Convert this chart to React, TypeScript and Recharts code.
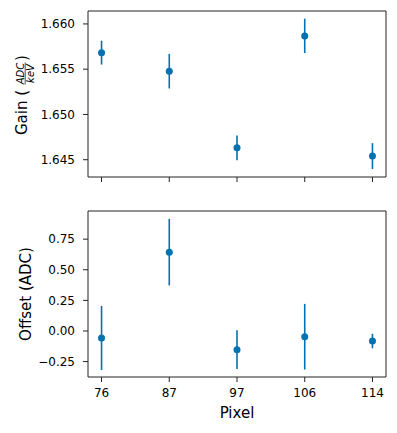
import React from "react";
import {
  ScatterChart,
  Scatter,
  XAxis,
  YAxis,
  ErrorBar,
  ReferenceLine,
} from "recharts";

const pixels = ["76", "87", "97", "106", "114"];
const gain = [1.65683, 1.65478, 1.64631, 1.65868, 1.6454];
const gainErr = [0.00132, 0.00191, 0.00136, 0.0019, 0.00143];
const offset = [-0.057, 0.644, -0.153, -0.047, -0.082];
const offsetErr = [0.262, 0.272, 0.158, 0.268, 0.059];
const gainTicks = [1.645, 1.65, 1.655, 1.66];
const offsetTicks = [-0.25, 0, 0.25, 0.5, 0.75];

const BLUE = "#0072b2";
const FONT = "DejaVu Sans";
const AXIS = "#222";
const X_DOMAIN = [-0.2, 4.2];

const xIdx = pixels.map((_, i) => i);

const gainData = pixels.map((p, i) => ({ x: i, y: gain[i], err: gainErr[i] }));
const offsetData = pixels.map((p, i) => ({ x: i, y: offset[i], err: offsetErr[i] }));

const fmt = (v: number, d: number) => v.toFixed(d).replace("-", "\u2212");

// "Gain (ADC/keV)" with a stacked fraction, like matplotlib mathtext
const GainLabel = (props: any) => {
  const vb = props.viewBox || { x: 0, y: 11, width: 88, height: 166 };
  const bx = vb.x + 27;
  const by = vb.y + vb.height / 2 + 41;
  return (
    <g transform={`translate(${bx},${by}) rotate(-90)`} fontFamily={FONT} fill="#000">
      <text x={0} y={0} fontSize={15}>
        Gain (
      </text>
      <text x={61.5} y={-3.2} fontSize={10} fontStyle="italic" textAnchor="middle">
        ADC
      </text>
      <line x1={50.5} x2={72.5} y1={-1.8} y2={-1.8} stroke="#000" strokeWidth={0.7} />
      <text x={61.5} y={7} fontSize={10} fontStyle="italic" textAnchor="middle">
        keV
      </text>
      <text x={74} y={0} fontSize={15}>
        )
      </text>
    </g>
  );
};

const OffsetLabel = (props: any) => {
  const vb = props.viewBox || { x: 0, y: 11, width: 88, height: 166 };
  const cx = vb.x + 30.5;
  const cy = vb.y + vb.height / 2;
  return (
    <text
      transform={`translate(${cx},${cy}) rotate(-90)`}
      textAnchor="middle"
      fontFamily={FONT}
      fontSize={15}
      fill="#000"
    >
      Offset (ADC)
    </text>
  );
};

const PixelLabel = (props: any) => {
  const vb = props.viewBox || { x: 88, y: 377, width: 298, height: 56 };
  return (
    <text
      x={vb.x + vb.width / 2}
      y={vb.y + 41}
      textAnchor="middle"
      fontFamily={FONT}
      fontSize={15}
      fill="#000"
    >
      Pixel
    </text>
  );
};

const tickStyle = { fill: "#000", fontSize: 12, fontFamily: FONT };

function Panel({
  data,
  domain,
  ticks,
  digits,
  height,
  xHeight,
  showX,
  yLabel,
}: any) {
  return (
    <ScatterChart
      width={397}
      height={height}
      margin={{ top: 11, right: 11, left: 0, bottom: 0 }}
    >
      <XAxis
        xAxisId="b"
        type="number"
        dataKey="x"
        domain={X_DOMAIN}
        ticks={xIdx}
        allowDataOverflow
        height={xHeight}
        stroke={AXIS}
        tickSize={5}
        tickMargin={6}
        tick={tickStyle}
        tickFormatter={(v: number) => (showX ? pixels[v] : "")}
        label={showX ? PixelLabel : undefined}
      />
      <YAxis
        yAxisId="l"
        type="number"
        dataKey="y"
        domain={domain}
        ticks={ticks}
        allowDataOverflow
        width={88}
        stroke={AXIS}
        tickSize={5}
        tickMargin={8}
        tick={tickStyle}
        tickFormatter={(v: number) => fmt(v, digits)}
        label={yLabel}
      />
      {/* top and right spines */}
      <ReferenceLine xAxisId="b" yAxisId="l" y={domain[1]} stroke={AXIS} strokeWidth={1} />
      <ReferenceLine xAxisId="b" yAxisId="l" x={X_DOMAIN[1]} stroke={AXIS} strokeWidth={1} />
      <Scatter
        data={data}
        xAxisId="b"
        yAxisId="l"
        fill={BLUE}
        isAnimationActive={false}
        shape={(p: any) => <circle cx={p.cx} cy={p.cy} r={3.5} fill={BLUE} />}
      >
        <ErrorBar
          dataKey="err"
          direction="y"
          width={0}
          stroke={BLUE}
          strokeWidth={1.6}
          isAnimationActive={false}
        />
      </Scatter>
    </ScatterChart>
  );
}

export default function App() {
  return (
    <div
      style={{
        position: "absolute",
        left: 0,
        top: 0,
        width: 397,
        height: 433,
        background: "#fff",
      }}
    >
      <div style={{ position: "absolute", left: 0, top: 0 }}>
        <Panel
          data={gainData}
          domain={[1.64309, 1.66143]}
          ticks={gainTicks}
          digits={3}
          height={200}
          xHeight={23}
          showX={false}
          yLabel={GainLabel}
        />
      </div>
      <div style={{ position: "absolute", left: 0, top: 200 }}>
        <Panel
          data={offsetData}
          domain={[-0.376, 0.98]}
          ticks={offsetTicks}
          digits={2}
          height={233}
          xHeight={56}
          showX={true}
          yLabel={OffsetLabel}
        />
      </div>
    </div>
  );
}
